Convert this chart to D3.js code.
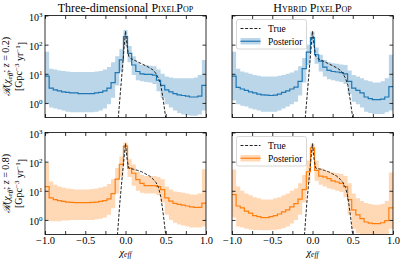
<!DOCTYPE html>
<html><head><meta charset="utf-8">
<script src="https://cdn.jsdelivr.net/npm/d3@7"></script>
<style>
body{margin:0;background:#fff}
svg{display:block}
text{font-family:"Liberation Serif","DejaVu Serif",serif;fill:#000}
</style>
</head><body>
<svg id="c" width="400" height="261"></svg>
<script>
// ---------- data ----------
const nBins = 39;
const titlePrefixes = ["Three-dimensional ", ""];
const titleCaps = ["PixelPop", "Hybrid PixelPop"];
const redshifts = ["0.2", "0.8"];
const xTickValues = [-1, -0.5, 0, 0.5, 1];
const xAllTicks = [-1, -0.75, -0.5, -0.25, 0, 0.25, 0.5, 0.75, 1];
const yTickValues = [1, 10, 100, 1000];
const yTickExponents = ["0", "1", "2", "3"];
const legendLabels = ["True", "Posterior"];

// three-dimensional, z = 0.2
const med3dZ02 = [8.3,3.2,2.8,2.6,2.4,2.3,2.2,2.2,2.1,2.1,2.1,2.1,2.2,2.3,2.6,3.2,5.0,11,30,190,50,20,12,10,9.5,9.5,9,6,4,2.8,2.4,2.1,1.9,1.8,1.7,1.6,1.6,1.7,4.0];
const hi3dZ02  = [57,15,14,13,12.5,12,11.5,11.5,11.5,11.5,11.5,11.5,12,12.5,14,17,25,40,70,320,90,40,25,20,20,19,18,14,10,8,7.5,7,7,7,7,7,7.5,9,30];
const lo3dZ02  = [0.9,0.7,0.65,0.6,0.55,0.5,0.48,0.48,0.48,0.48,0.48,0.48,0.5,0.55,0.65,0.9,1.5,4,12,90,25,9,6,5.5,5.2,5,4.5,2.5,1.5,0.9,0.7,0.55,0.45,0.4,0.38,0.36,0.36,0.4,0.55];
// hybrid, z = 0.2
const medHyZ02 = [8.3,3.4,3.0,2.7,2.4,2.2,2.0,1.9,1.85,1.8,1.85,2.0,2.3,2.6,3.0,3.5,5.5,15,55,175,45,27,17,13,12,11.5,11,10,5.5,3.2,2.7,2.2,1.6,1.4,1.3,1.3,1.35,1.6,3.6];
const hiHyZ02  = [57,15,12,11,10,9,8.5,8,8,8,8,8.5,9,10,11,13,18,35,100,280,80,45,30,25,23,22,21,20,13,9,8,7,6,5.5,5,5,5.5,7,45];
const loHyZ02  = [1.2,0.9,0.8,0.75,0.65,0.6,0.55,0.5,0.5,0.5,0.5,0.55,0.65,0.75,0.9,1.1,1.8,5,20,100,22,12,8,6.5,6,5.5,5.2,4.5,2,1.1,0.9,0.7,0.5,0.45,0.42,0.42,0.42,0.48,0.55];
// three-dimensional, z = 0.8
const med3dZ08 = [14,5.7,5.0,4.6,4.3,4.1,4.0,3.9,3.9,3.9,3.9,4.0,4.1,4.3,4.6,5.3,8,25,80,340,60,40,24,18,15,15,15,14,11,5.7,4.4,3.7,3.4,3.2,3.0,2.8,2.7,2.7,3.8];
const hi3dZ08  = [90,21,16,14,13,12,11.5,11,11,11,11,11.5,12,13,14,17,25,60,150,450,120,80,45,35,32,32,32,30,25,14,11,9.5,9,8.5,8,7.5,7.5,8,55];
const lo3dZ08  = [1.0,0.9,0.9,0.9,0.95,0.95,1.0,1.0,1.0,1.0,1.0,1.0,1.05,1.1,1.2,1.5,2.5,8,30,200,30,15,10,8.5,8,8,8,7,4,1.5,1.0,0.8,0.7,0.65,0.6,0.55,0.55,0.55,0.6];
// hybrid, z = 0.8
const medHyZ08 = [7.4,3.0,2.6,2.0,1.7,1.4,1.3,1.2,1.2,1.3,1.4,1.6,1.9,2.2,2.8,3.6,5.2,11,45,300,50,32,30,26,22,20,18,14,5,2.2,1.5,1.1,0.85,0.78,0.75,0.75,0.8,0.95,2.6];
const hiHyZ08  = [54,14,10,8,7,6,5.5,5,5,5,5.5,6,7,8,10,12,18,35,110,420,110,60,50,45,42,40,38,32,18,8,5.5,4.5,3.8,3.5,3.3,3.3,3.5,4.5,42];
const loHyZ08  = [1.2,0.6,0.55,0.5,0.47,0.45,0.45,0.44,0.44,0.45,0.46,0.48,0.52,0.6,0.75,1.0,1.5,4,18,180,22,16,14,12,11,10,9,6,1.5,0.5,0.35,0.28,0.22,0.2,0.2,0.2,0.22,0.28,0.5];

// true distributions
const trueXZ02 = [-0.09,-0.06,-0.03,0,0.02,0.04,0.07,0.1,0.15,0.2,0.25,0.3,0.35,0.38,0.41,0.44,0.47,0.5];
const trueYZ02 = [0.3,3,30,290,90,40,33,30,26,22,19,16,13,10,7,4,1.2,0.3];
const trueXZ08 = [-0.1,-0.07,-0.035,0,0.02,0.04,0.07,0.1,0.15,0.2,0.25,0.3,0.35,0.38,0.41,0.44,0.47,0.5];
const trueYZ08 = [0.3,4,45,420,120,60,57,55,50,45,38,32,24,19,13,6,1.5,0.3];

// ---------- layout ----------
const colX = [45, 232], rowY = [15.5, 132.5], PW = 161, PH = 102;
const blue = "#1f77b4", orange = "#ff7f0e";
const panels = [
  {c:0, r:0, med:med3dZ02, hi:hi3dZ02, lo:lo3dZ02, tx:trueXZ02, ty:trueYZ02, col:blue},
  {c:1, r:0, med:medHyZ02, hi:hiHyZ02, lo:loHyZ02, tx:trueXZ02, ty:trueYZ02, col:blue},
  {c:0, r:1, med:med3dZ08, hi:hi3dZ08, lo:lo3dZ08, tx:trueXZ08, ty:trueYZ08, col:orange},
  {c:1, r:1, med:medHyZ08, hi:hiHyZ08, lo:loHyZ08, tx:trueXZ08, ty:trueYZ08, col:orange}
];
const edges = d3.range(nBins + 1).map(i => -1 + 2 * i / nBins);

const svg = d3.select("#c");
const defs = svg.append("defs");

panels.forEach((p, k) => {
  const x0 = colX[p.c], y0 = rowY[p.r];
  const x = d3.scaleLinear().domain([-1, 1]).range([0, PW]);
  const y = d3.scaleLog().domain([Math.pow(10, -0.5), 1000]).range([PH, 0]);
  const g = svg.append("g").attr("transform", `translate(${x0},${y0})`);
  defs.append("clipPath").attr("id", "cp" + k).append("rect").attr("width", PW).attr("height", PH);
  const plot = g.append("g").attr("clip-path", `url(#cp${k})`);

  const pts = edges.map((e, i) => ({x: e, m: p.med[Math.min(i, nBins - 1)], h: p.hi[Math.min(i, nBins - 1)], l: p.lo[Math.min(i, nBins - 1)]}));
  plot.append("path").datum(pts)
    .attr("d", d3.area().curve(d3.curveStepAfter).x(d => x(d.x)).y0(d => y(d.l)).y1(d => y(d.h)))
    .attr("fill", p.col).attr("fill-opacity", 0.3);
  plot.append("path").datum(pts)
    .attr("d", d3.line().curve(d3.curveStepAfter).x(d => x(d.x)).y(d => y(d.m)))
    .attr("fill", "none").attr("stroke", p.col).attr("stroke-width", 1.2);
  plot.append("path").datum(p.tx.map((v, i) => [v, p.ty[i]]))
    .attr("d", d3.line().x(d => x(d[0])).y(d => y(d[1])))
    .attr("fill", "none").attr("stroke", "#222").attr("stroke-width", 1)
    .attr("stroke-dasharray", "3,1.6");

  // axes
  const ts = 3.5;
  const bottomAx = d3.axisBottom(x).tickValues(xAllTicks).tickSizeInner(-ts).tickSizeOuter(0).tickPadding(2.5)
    .tickFormat(d => (p.r === 1 && xTickValues.includes(d)) ? d3.format(".1f")(d) : "");
  const topAx = d3.axisTop(x).tickValues(xAllTicks).tickSizeInner(-ts).tickSizeOuter(0).tickFormat("");
  const leftAx = d3.axisLeft(y).tickValues(yTickValues).tickSizeInner(-ts).tickSizeOuter(0).tickPadding(2.5).tickFormat("");
  const rightAx = d3.axisRight(y).tickValues(yTickValues).tickSizeInner(-ts).tickSizeOuter(0).tickFormat("");
  const gb = g.append("g").attr("transform", `translate(0,${PH})`).call(bottomAx);
  g.append("g").call(topAx);
  const gl = g.append("g").call(leftAx);
  g.append("g").attr("transform", `translate(${PW},0)`).call(rightAx);
  g.selectAll(".domain").remove();
  g.selectAll(".tick line").attr("stroke", "#000").attr("stroke-width", 0.8);
  gb.selectAll(".tick text").attr("font-family", "Liberation Serif").attr("font-size", 10.5);
  if (p.c === 0) {
    gl.selectAll(".tick text").each(function(d, i) {
      const t = d3.select(this).attr("font-family", "Liberation Serif").attr("font-size", 10).attr("dy", "0.45em");
      t.text(null);
      t.append("tspan").text("10");
      t.append("tspan").attr("dy", "-0.5em").attr("font-size", 7).text(yTickExponents[i]);
    });
  }
  g.append("rect").attr("width", PW).attr("height", PH).attr("fill", "none")
    .attr("stroke", "#000").attr("stroke-width", 0.8);

  // legend (right column)
  if (p.c === 1) {
    const lg = g.append("g").attr("transform", "translate(4.5,4)");
    lg.append("rect").attr("width", 70).attr("height", 29.5).attr("rx", 2)
      .attr("fill", "#fff").attr("fill-opacity", 0.85).attr("stroke", "#ccc").attr("stroke-width", 0.8);
    lg.append("line").attr("x1", 4).attr("x2", 24).attr("y1", 9).attr("y2", 9)
      .attr("stroke", "#222").attr("stroke-width", 1).attr("stroke-dasharray", "3,1.6");
    lg.append("rect").attr("x", 4).attr("y", 18.5).attr("width", 20).attr("height", 6.5)
      .attr("fill", p.col).attr("fill-opacity", 0.3);
    lg.append("line").attr("x1", 4).attr("x2", 24).attr("y1", 21.75).attr("y2", 21.75)
      .attr("stroke", p.col).attr("stroke-width", 1.2);
    lg.append("text").attr("x", 31.5).attr("y", 12.3).attr("font-size", 9.5).text(legendLabels[0]);
    lg.append("text").attr("x", 31.5).attr("y", 25).attr("font-size", 9.5).text(legendLabels[1]);
  }

  // titles
  if (p.r === 0) {
    const tt = g.append("text").attr("x", PW / 2).attr("y", -3.5).attr("text-anchor", "middle").attr("font-size", 12);
    if (titlePrefixes[p.c]) tt.append("tspan").text(titlePrefixes[p.c]);
    tt.append("tspan").style("font-variant", "small-caps").text(titleCaps[p.c]);
  }
  // x label
  if (p.r === 1) {
    const t = g.append("text").attr("x", PW / 2).attr("y", PH + 21).attr("text-anchor", "middle").attr("font-size", 10.5);
    t.append("tspan").attr("font-style", "italic").text("χ");
    t.append("tspan").attr("font-style", "italic").attr("font-size", 7.5).attr("dy", "0.25em").text("eff");
  }
  // y label
  if (p.c === 0) {
    const cy = y0 + PH / 2;
    const yl = svg.append("g").attr("transform", `translate(10,${cy}) rotate(-90)`);
    const t1 = yl.append("text").attr("text-anchor", "middle").attr("font-size", 10);
    t1.append("tspan").attr("font-family", "DejaVu Serif").attr("font-style", "italic").text("ℛ");
    t1.append("tspan").text("(");
    t1.append("tspan").attr("font-style", "italic").text("χ");
    t1.append("tspan").attr("font-style", "italic").attr("font-size", 7).attr("dy", "0.25em").text("eff");
    t1.append("tspan").attr("dy", "-0.25em").text("; ");
    t1.append("tspan").attr("font-style", "italic").text("z");
    t1.append("tspan").text(" = " + redshifts[p.r] + ")");
    const t2 = yl.append("text").attr("text-anchor", "middle").attr("font-size", 10).attr("y", 12);
    t2.append("tspan").text("[Gpc");
    t2.append("tspan").attr("font-size", 7).attr("dy", "-0.45em").text("−3");
    t2.append("tspan").attr("dy", "0.45em").text(" yr");
    t2.append("tspan").attr("font-size", 7).attr("dy", "-0.45em").text("−1");
    t2.append("tspan").attr("dy", "0.45em").text("]");
  }
});
</script>
</body></html>
